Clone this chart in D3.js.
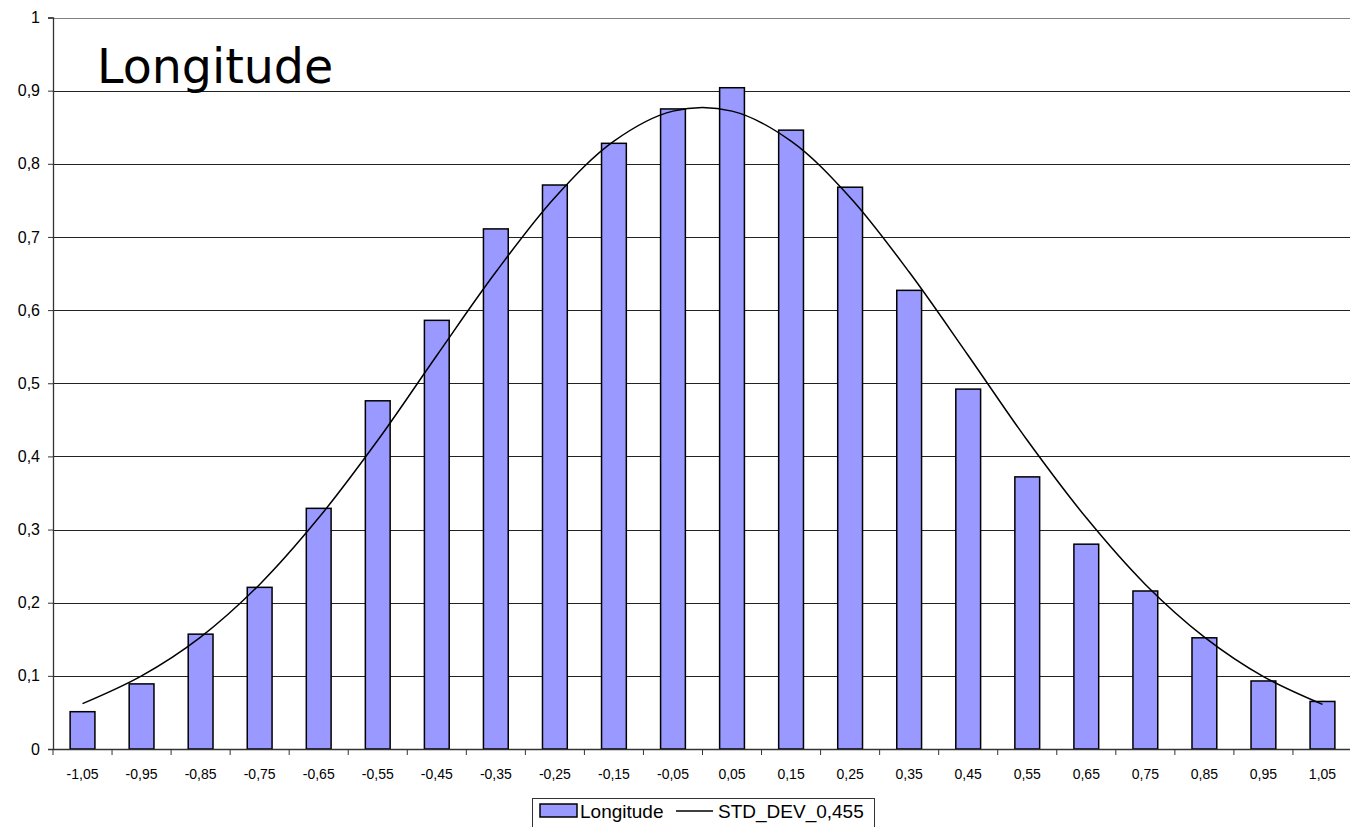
<!DOCTYPE html>
<html>
<head>
<meta charset="utf-8">
<script src="https://cdn.jsdelivr.net/npm/d3@7"></script>
<style>
  html, body { margin: 0; padding: 0; background: #fff; }
  svg { display: block; }
</style>
</head>
<body>
<svg id="chart" width="1350" height="827"></svg>
<script>
const categories = ["-1,05","-0,95","-0,85","-0,75","-0,65","-0,55","-0,45","-0,35","-0,25","-0,15","-0,05",
                    "0,05","0,15","0,25","0,35","0,45","0,55","0,65","0,75","0,85","0,95","1,05"];
const barValues = [0.051, 0.089, 0.157, 0.221, 0.329, 0.476, 0.586, 0.711, 0.771, 0.828, 0.875,
                   0.904, 0.846, 0.768, 0.627, 0.492, 0.372, 0.280, 0.216, 0.152, 0.093, 0.065];
const curveValues = [0.062, 0.100, 0.153, 0.225, 0.316, 0.422, 0.538, 0.652, 0.754, 0.831, 0.872,
                     0.872, 0.831, 0.754, 0.652, 0.538, 0.422, 0.316, 0.225, 0.153, 0.099, 0.061];
const yTicks = [0, 0.1, 0.2, 0.3, 0.4, 0.5, 0.6, 0.7, 0.8, 0.9, 1];
const yTickLabels = ["0","0,1","0,2","0,3","0,4","0,5","0,6","0,7","0,8","0,9","1"];
const seriesNames = ["Longitude", "STD_DEV_0,455"];
const titleText = "Longitude";

const svg = d3.select("#chart");
const plotLeft = 53, plotRight = 1352, plotTop = 17.5, plotBottom = 749;

const x = d3.scaleBand().domain(categories).range([plotLeft, plotRight]).paddingInner(0).paddingOuter(0);
const y = d3.scaleLinear().domain([0, 1]).range([plotBottom, plotTop]);

// gridlines
svg.append("g").selectAll("line").data(yTicks.filter(d => d > 0)).join("line")
  .attr("x1", plotLeft).attr("x2", plotRight)
  .attr("y1", d => Math.round(y(d)) + 0.5).attr("y2", d => Math.round(y(d)) + 0.5)
  .attr("stroke", d => d === 1 ? "#808080" : "#222")
  .attr("stroke-width", 1);

// bars
const barW = x.bandwidth() * 0.42;
svg.append("g").selectAll("rect").data(barValues).join("rect")
  .attr("x", (d, i) => x(categories[i]) + (x.bandwidth() - barW) / 2)
  .attr("y", d => y(d))
  .attr("width", barW)
  .attr("height", d => y(0) - y(d))
  .attr("fill", "#9999FF")
  .attr("stroke", "#000")
  .attr("stroke-width", 1.5);

// curve
const line = d3.line()
  .x((d, i) => x(categories[i]) + x.bandwidth() / 2)
  .y(d => y(d))
  .curve(d3.curveCatmullRom.alpha(0.5));
svg.append("path").datum(curveValues)
  .attr("d", line)
  .attr("fill", "none")
  .attr("stroke", "#000")
  .attr("stroke-width", 1.5);

// y axis
const yAxis = d3.axisLeft(y).tickValues(yTicks).tickFormat((d, i) => yTickLabels[i]).tickSize(5).tickPadding(8);
const gy = svg.append("g").attr("transform", `translate(${plotLeft},0)`).call(yAxis);
gy.select(".domain").attr("stroke", "#333").attr("stroke-width", 1.3);
gy.selectAll(".tick line").attr("stroke", "#333");
gy.selectAll("text").attr("font-family", "'Liberation Sans', Arial, sans-serif").attr("font-size", 16).attr("fill", "#000");

// x axis
const xAxis = d3.axisBottom(x).tickSize(0).tickPadding(20);
const gx = svg.append("g").attr("transform", `translate(0,${plotBottom})`).call(xAxis);
gx.select(".domain").attr("stroke", "#333").attr("stroke-width", 1.3);
gx.selectAll("text").attr("font-family", "'Liberation Sans', Arial, sans-serif").attr("font-size", 14).attr("fill", "#000");
const bounds = categories.map(c => x(c)).concat([plotRight]);
gx.append("g").selectAll("line").data(bounds).join("line")
  .attr("x1", d => d).attr("x2", d => d).attr("y1", 0).attr("y2", 6)
  .attr("stroke", "#333").attr("stroke-width", 1);

// title
svg.append("text").attr("x", 97).attr("y", 83)
  .attr("font-family", "'DejaVu Sans', Verdana, sans-serif").attr("font-size", 47.5)
  .attr("fill", "#000").text(titleText);

// legend
const lg = svg.append("g");
lg.append("rect").attr("x", 532.5).attr("y", 798.5).attr("width", 342).attr("height", 40)
  .attr("fill", "#fff").attr("stroke", "#333").attr("stroke-width", 1);
lg.append("rect").attr("x", 540).attr("y", 804).attr("width", 37).attr("height", 13)
  .attr("fill", "#9999FF").attr("stroke", "#000").attr("stroke-width", 1.5);
lg.append("text").attr("x", 580).attr("y", 818)
  .attr("font-family", "'Liberation Sans', Arial, sans-serif").attr("font-size", 19).text(seriesNames[0]);
lg.append("line").attr("x1", 676).attr("x2", 713).attr("y1", 811).attr("y2", 811)
  .attr("stroke", "#000").attr("stroke-width", 1.5);
lg.append("text").attr("x", 718).attr("y", 818)
  .attr("font-family", "'Liberation Sans', Arial, sans-serif").attr("font-size", 19).text(seriesNames[1]);
</script>
</body>
</html>
